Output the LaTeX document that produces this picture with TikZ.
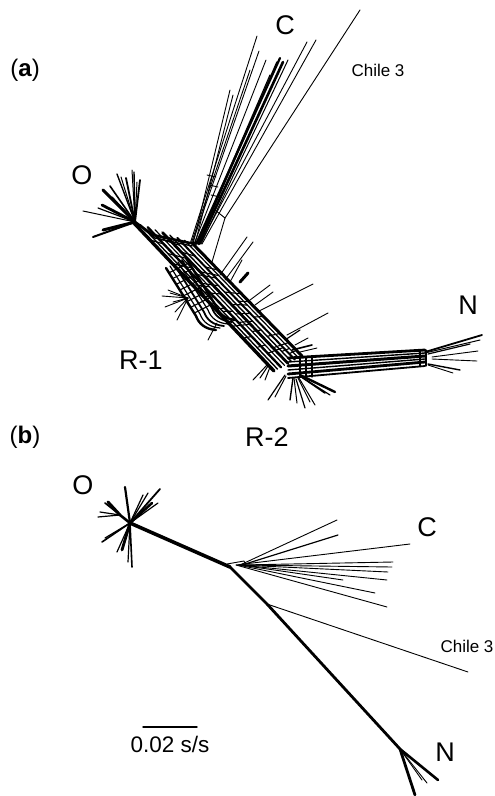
\documentclass[tikz,border=0pt]{standalone}
\usepackage{fontspec}
\setmainfont{Liberation Sans}
\usetikzlibrary{positioning,calc}
\tikzset{
  twig/.style={line width=0.9pt},
  limb/.style={line width=2.6pt},
  lab/.style={inner sep=0pt,font=\fontsize{27}{27}\selectfont},
  labm/.style={inner sep=0pt,font=\fontsize{22.5}{22.5}\selectfont},
  labs/.style={inner sep=0pt,font=\fontsize{17}{17}\selectfont},
  pan/.style={inner sep=0pt,font=\fontsize{24}{24}\selectfont},
}

\begin{document}
\begin{tikzpicture}[x=1pt,y=-1pt,line cap=round,line join=round]
  \useasboundingbox (0,0) rectangle (495,796);
  \node[pan] (pa) at (25,70) {(\textbf{a})};
  \node[lab] (ca) at (285,25) {C};
  \node[labs] (chla) at (378,70) {Chile 3};
  \node[lab] (oa) at (82,175) {O};
  \node[lab] (na) at (468,305) {N};
  \node[lab] (r1) at (141,360) {R-1};
  \node[pan] (pb) at (25,437) {(\textbf{b})};
  \node[lab] (r2) at (267,437) {R-2};
  \node[lab] (ob) at (83,485) {O};
  \node[lab] (cb) at (427,527) {C};
  \node[labs] (chlb) at (467,646) {Chile 3};
  \node[lab] (nb) at (445,752) {N};
  \coordinate (s1) at (143,727);
  \coordinate (s2) at (197,727);
  \draw[line width=1.4pt] (s1) -- (s2);
  \node[labm] (sc) at (170,744) {0.02 s/s};

  % (a) O hub
  \coordinate (hoa) at (135,222);
  \foreach \x/\y/\w in {83/211/1,103/190/3,110/186/1.6,117/174/1.4,121/177/1,126/178/1.8,
      132/170/1,134/172/1.4,140/180/1.8,137/182/1,102/205/2.8,98/208/1.2,93/237/2,
      103/230/3,108/229/1.2,112/197/1.4}
    \draw[line width=\w pt] (hoa) -- (\x,\y);
  \draw[limb] (hoa) -- (153,235) -- (190,243);
  \draw[line width=1.4pt] (hoa) -- (155,238) -- (192,246);

  % (a) main bundle
  \coordinate (a1) at (133,222);
  \coordinate (a2) at (192,243);
  \coordinate (b1) at (274,371);
  \coordinate (b2) at (302,356);
  \foreach \i/\w in {0/3.4,1/1.4,2/2.4,3/1.2,4/2.8,5/1.4,6/2,7/1.2,8/3}
    \draw[line width=\w pt] ($(a1)!\i/8!(a2)$) coordinate (u\i) -- ($(b1)!\i/8!(b2)$) coordinate (v\i);
  \foreach \s/\i/\j in {0.12/0/2,0.2/1/4,0.28/0/3,0.33/3/6,0.4/2/5,0.45/5/8,0.5/0/2,0.55/4/7,
      0.6/1/3,0.65/6/8,0.7/0/4,0.75/3/5,0.8/5/8,0.85/1/3,0.9/2/6,0.95/6/8,0.24/6/8,0.37/0/1,
      0.15/4/6,0.08/2/5,0.47/1/4,0.58/0/2,0.68/2/5,0.88/4/8,0.3/4/7,0.42/0/3,0.52/6/8,
      0.62/3/6,0.78/0/2,0.92/5/7}
    \draw[line width=1.1pt] ($(u\i)!\s!(v\i)$) -- ($(u\j)!\s!(v\j)$);

  % (a) R-1 side band
  \foreach \x/\y/\w in {0/0/2.4,4/-2/1.2,8/-4/1.8,12/-6/1.2,16/-8/1.8,20/-10/2.4}
    \draw[line width=\w pt] (166+\x,268+\y) -- (196+\x,316+\y)
      .. controls (199+\x,324+\y) and (205+\x,329+\y) .. (216+\x,330+\y);
  \foreach \t in {0.1,0.22,0.34,0.46,0.58,0.7,0.82,0.94}
    \draw[line width=1.1pt] ($(166,268)!\t!(196,316)$) -- ($(186,258)!\t!(216,306)$);
  \foreach \x/\y in {170/293,165/307,173/302,177/320,168/290,162/296,175/312}
    \draw[twig] (188,298) -- (\x,\y);
  \draw[twig] (217,323) -- (208,340);

  % (a) leaves on the upper side
  \foreach \x/\y/\p/\q/\w in {220/275/247/237/0.9,225/280/253/242/0.9,240/282/248/273/3,
      250/300/270/285/0.9,255/305/273/292/0.9,257/312/313/284/0.9,287/335/328/313/0.9,
      295/345/308/338/0.9,300/352/317/348/0.9,230/282/242/260/0.9,285/340/300/330/1.2,
      292/350/312/345/1.6}
    \draw[line width=\w pt] (\x,\y) -- (\p,\q);

  % (a) C clade and Chile 3
  \foreach \x/\p/\q/\w in {190/257/36/0.9,192/259/51/0.9,194/266/60/0.9,196/280/58/2.2,
      198/277/62/1.5,193/230/90/0.9,195/233/95/0.9,200/307/42/0.9,202/316/40/0.9,
      197/270/75/1.2,199/283/62/2.6,191/250/70/0.9,201/288/60/1}
    \draw[line width=\w pt] (\x,244) -- (\p,\q);
  \draw[twig] (212,262) -- (225,218) -- (360,10);
  \draw[twig] (215,210) -- (225,218);
  \foreach \y in {175,185,195}
    \draw[twig] (207+0.2*\y-35,\y) -- (216+0.2*\y-35,\y+2);

  % (a) bottom hub and N clade
  \foreach \y/\z/\w in {358/350/2.8,362/353/1.4,366/356/3,370/359/1.4,374/362/2.8,378/366/1.8}
    \draw[line width=\w pt] (288,\y) -- (425,\z);
  \draw[line width=1.2pt] (420,350) -- (420,366);
  \draw[line width=1.2pt] (426,350) -- (426,366);
  \foreach \x in {300,306,312}
    \draw[line width=1.2pt] (\x,357) -- (\x,377);
  \foreach \a/\b/\x/\y/\w in {425/352/482/335/1.8,425/353/480/340/1,432/357/478/351/0.9,
      432/359/477/361/0.9,428/364/460/370/1.4,428/365/453/373/0.9,428/354/470/344/1.2}
    \draw[line width=\w pt] (\a,\b) -- (\x,\y);
  \foreach \a/\b/\x/\y/\w in {267/365/253/380/1,268/366/260/378/1,270/367/265/380/1,
      285/375/268/400/1.2,286/376/275/397/1,293/378/290/400/1.4,294/378/297/403/1,
      296/379/305/408/1.2,298/378/310/402/1,299/378/315/405/1,300/375/335/392/2.4,
      300/376/325/393/1.6,300/376/330/395/1.2}
    \draw[line width=\w pt] (\a,\b) -- (\x,\y);

  % (b)
  \coordinate (hob) at (130,523);
  \coordinate (jb) at (230,567);
  \coordinate (kb) at (267,604);
  \coordinate (hnb) at (400,749);
  \draw[line width=3.6pt] (hob) -- (jb);
  \draw[line width=2.8pt] (jb) -- (kb) -- (hnb);
  \draw[twig] (kb) -- (468,672);
  \draw[twig] (227,564) -- (244,561) -- (246,566);
  \foreach \a/\x/\y/\w in {240/337/520/0.9,242/338/535/1.2,236/410/544/0.9,240/393/562/0.9,
      240/392/567/0.9,240/388/572/0.9,240/387/580/0.9,240/343/580/0.9,238/375/593/0.9,
      236/387/607/0.9}
    \draw[line width=\w pt] (\a,565) -- (\x,\y);
  \foreach \x/\y/\w in {438/780/2.6,427/783/0.9,422/780/0.9,415/795/2.8}
    \draw[line width=\w pt] (hnb) -- (\x,\y);
  \foreach \x/\y/\w in {125/487/2.2,143/495/1.2,148/493/1.2,160/489/1.8,158/503/1.2,152/503/2.6,
      102/542/1.6,105/538/1.2,132/567/1.6,128/562/1.2,122/550/2.8,117/552/1.2}
    \draw[line width=\w pt] (hob) -- (\x,\y);
  \draw[limb] (hob) -- (120,515);
  \foreach \x/\y/\w in {105/503/1.6,108/502/3,100/512/1.2,98/517/1.2}
    \draw[line width=\w pt] (120,515) -- (\x,\y);
\end{tikzpicture}
\end{document}
